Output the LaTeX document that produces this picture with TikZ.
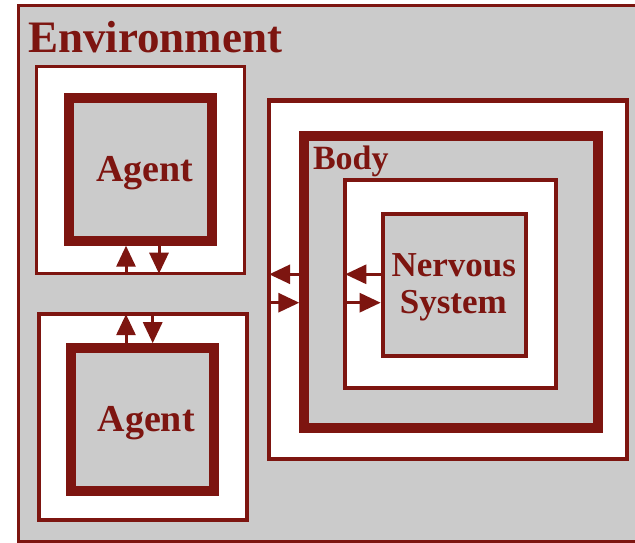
\documentclass[tikz,border=0pt]{standalone}
\usepackage{fontspec}
\setmainfont{Liberation Serif}
\usetikzlibrary{arrows.meta,calc}
\definecolor{dred}{HTML}{7D1510}
\definecolor{envgrey}{HTML}{CBCBCB}
\begin{document}
\begin{tikzpicture}[x=1pt,y=-1pt,
  envbox/.style={rectangle,draw=dred,fill=envgrey,line width=3pt,inner sep=0pt,outer sep=0pt},
  whitebox/.style={rectangle,draw=dred,fill=white,line width=3.5pt,inner sep=0pt,outer sep=0pt},
  thickbox/.style={rectangle,draw=dred,fill=envgrey,line width=10pt,inner sep=0pt,outer sep=5pt},
  nsbox/.style={rectangle,draw=dred,fill=envgrey,line width=4pt,inner sep=0pt,outer sep=2pt},
  lbl/.style={text=dred,inner sep=0pt,outer sep=0pt},
  arr/.style={draw=dred,line width=3pt,-{Triangle[length=21pt 0 0,width=19pt 0 0]}}]
\useasboundingbox (0,0) rectangle (635,543);
\fill[white] (0,0) rectangle (635,543);
% environment
\node[envbox,minimum width=626.5pt,minimum height=536pt] (env) at (331.75,273.5) {};
\node[lbl,anchor=base west,font=\bfseries\fontsize{45}{45}\selectfont] (envlbl) at (28,52.3) {Environment};
% top agent
\node[whitebox,minimum width=208pt,minimum height=207pt] (a1out) at (140.6,170.2) {};
\node[thickbox,minimum width=143pt,minimum height=143pt] (a1in) at (140.8,169.2) {};
\node[lbl,anchor=base,font=\bfseries\fontsize{38}{38}\selectfont] (a1lbl) at (144.6,181.7) {Agent};
% bottom agent
\node[whitebox,minimum width=208pt,minimum height=206pt] (a2out) at (143,417.2) {};
\node[thickbox,minimum width=143pt,minimum height=143pt] (a2in) at (142.7,419.7) {};
\node[lbl,anchor=base,font=\bfseries\fontsize{38}{38}\selectfont] (a2lbl) at (146.2,431.7) {Agent};
% body
\node[whitebox,line width=4.5pt,minimum width=358pt,minimum height=358.7pt] (rout) at (448.2,279.8) {};
\node[thickbox,minimum width=293.4pt,minimum height=292.6pt] (body) at (451,282) {};
\node[lbl,anchor=base west,font=\bfseries\fontsize{34}{34}\selectfont] (bodylbl) at (313,169) {Body};
\node[whitebox,line width=4pt,minimum width=211pt,minimum height=207.4pt] (nsout) at (450.8,284) {};
\node[nsbox,minimum width=143.3pt,minimum height=142pt] (ns) at (454.3,285) {};
\node[lbl,anchor=base,font=\bfseries\fontsize{35}{35}\selectfont] (nslbl1) at (453.8,276.7) {Nervous};
\node[lbl,anchor=base,font=\bfseries\fontsize{35}{35}\selectfont] (nslbl2) at (453.3,313.3) {System};
% arrow guide coordinates
\coordinate (xu1) at (126,0);
\coordinate (xd1) at (159,0);
\coordinate (xu2) at (126,0);
\coordinate (xd2) at (152.7,0);
\coordinate (ya) at (0,274.3);
\coordinate (yb) at (0,302.7);
% arrows
\draw[arr] (a1out.south -| xu1) -- (a1in.south -| xu1);
\draw[arr] (a1in.south -| xd1) -- (a1out.south -| xd1);
\draw[arr] (a2in.north -| xu2) -- (a2out.north -| xu2);
\draw[arr] (a2out.north -| xd2) -- (a2in.north -| xd2);
\draw[arr] (body.west |- ya) -- (rout.west |- ya);
\draw[arr] (rout.west |- yb) -- (body.west |- yb);
\draw[arr] (ns.west |- ya) -- (nsout.west |- ya);
\draw[arr] (nsout.west |- yb) -- (ns.west |- yb);
\end{tikzpicture}
\end{document}
